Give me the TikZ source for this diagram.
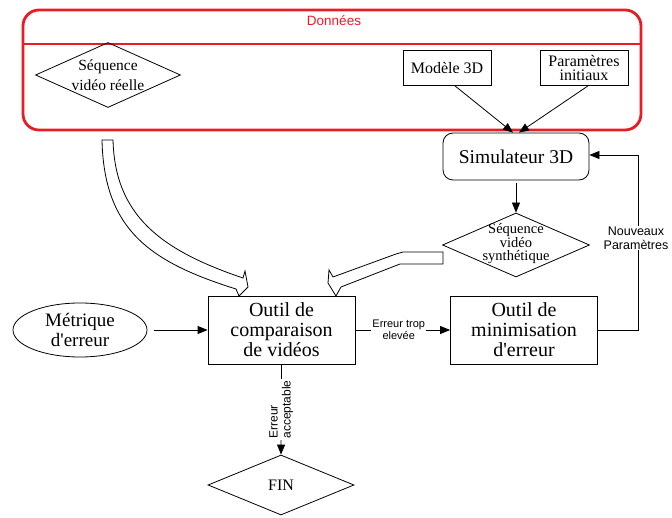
\documentclass[tikz,border=0pt]{standalone}
\usepackage{fontspec}
\setmainfont{Liberation Serif}
\setsansfont{Liberation Sans}
\usetikzlibrary{shapes.geometric,arrows.meta}
\definecolor{dred}{RGB}{232,28,36}
\begin{document}
\begin{tikzpicture}[x=1pt,y=-1pt,
 box/.style={draw, line width=0.8pt, inner sep=0pt, align=center},
 dia/.style={draw, diamond, line width=0.8pt, inner sep=0pt},
 txt/.style={align=center, inner sep=0pt},
 arr/.style={-{Triangle[length=10pt,width=8pt]}, line width=0.8pt},
 lbl/.style={font=\sffamily\fontsize{11}{12.5}\selectfont, align=center, fill=white, inner sep=1pt},
 hollow/.style={draw, line width=0.8pt, fill=white, line join=miter}]
\useasboundingbox (0,0) rectangle (672,518);

% Donnees frame
\draw[dred, line width=2.8pt, rounded corners=16pt] (23,10) rectangle (641,130);
\draw[dred, line width=2.8pt] (23,44) -- (641,44);
\node[text=dred, font=\sffamily\fontsize{13.5}{15}\selectfont] (titre) at (334,21) {Données};

% inputs
\node[dia, minimum width=145pt, minimum height=65pt] (sreelle) at (108,75) {};
\node[txt, font=\fontsize{15.5}{20}\selectfont] (sreelleT) at (sreelle) {Séquence\\vidéo réelle};
\node[box, minimum width=88pt, minimum height=35pt, font=\fontsize{16}{16}\selectfont] (modele) at (447,68) {Modèle 3D};
\node[box, minimum width=88pt, minimum height=35pt, font=\fontsize{16}{14.5}\selectfont] (params) at (584,68) {Paramètres\\initiaux};

% simulateur
\node[box, rounded corners=10pt, minimum width=146pt, minimum height=47pt, font=\fontsize{19.5}{20}\selectfont] (sim) at (516,156.5) {Simulateur 3D};
\node[dia, minimum width=147pt, minimum height=64pt] (ssynth) at (516,245) {};
\node[txt, font=\fontsize{14.5}{13.5}\selectfont] (ssynthT) at (516,244) {Séquence\\vidéo\\synthétique};

% tools
\node[box, minimum width=147pt, minimum height=68pt, font=\fontsize{20}{20}\selectfont] (comp) at (281.5,330) {Outil de\\comparaison\\de vidéos};
\node[box, minimum width=147pt, minimum height=68pt, font=\fontsize{20}{20}\selectfont] (mini) at (524,330) {Outil de\\minimisation\\d\textquotesingle erreur};
\node[draw, ellipse, line width=0.8pt, minimum width=134pt, minimum height=54pt, inner sep=0pt] (metrique) at (80,330) {};
\node[txt, font=\fontsize{19}{20}\selectfont] (metriqueT) at (metrique) {Métrique\\d\textquotesingle erreur};
\node[dia, minimum width=146pt, minimum height=60pt] (fin) at (281,485) {};
\node[txt, font=\fontsize{16}{18}\selectfont] (finT) at (fin) {FIN};

% arrows
\draw[arr] ([xshift=8pt]modele.south) -- ([xshift=-3pt]sim.north);
\draw[arr] ([xshift=4pt]params.south) -- ([xshift=3pt]sim.north);
\draw[arr, shorten <=3pt] (sim.south) -- (ssynth.north);
\draw[arr, shorten <=7pt] (metrique) -- (comp);
\draw[arr] (comp) -- node[lbl, xshift=-4pt] (errtrop) {Erreur trop\\elevée} (mini);
\coordinate (fbx) at (638,0);
\draw[arr] (mini.east) -- (mini.east -| fbx) |- ([yshift=1.5pt]sim.east);
\node[lbl, font=\sffamily\fontsize{12.5}{14}\selectfont] (nouveaux) at (636,238) {Nouveaux\\Paramètres};
\draw[arr] (comp.south) -- node[lbl, rotate=90, align=left, font=\sffamily\fontsize{12}{13}\selectfont] (erracc) {Erreur\\acceptable} (fin.north);

% hollow arrows
\draw[hollow] (102,140) -- (113,140)
  .. controls (115,215) and (160,250) .. (243,278)
  -- (245,271) -- (248,287) -- (239,296) -- (236,289)
  .. controls (150,262) and (104,230) .. (102,140) -- cycle;
\draw[hollow] (443,252) -- (403,252) -- (396,254) -- (333,277) -- (329,270)
  -- (328,283) -- (336,296) -- (341,287) -- (400,264) -- (443,264) -- cycle;
\end{tikzpicture}
\end{document}
